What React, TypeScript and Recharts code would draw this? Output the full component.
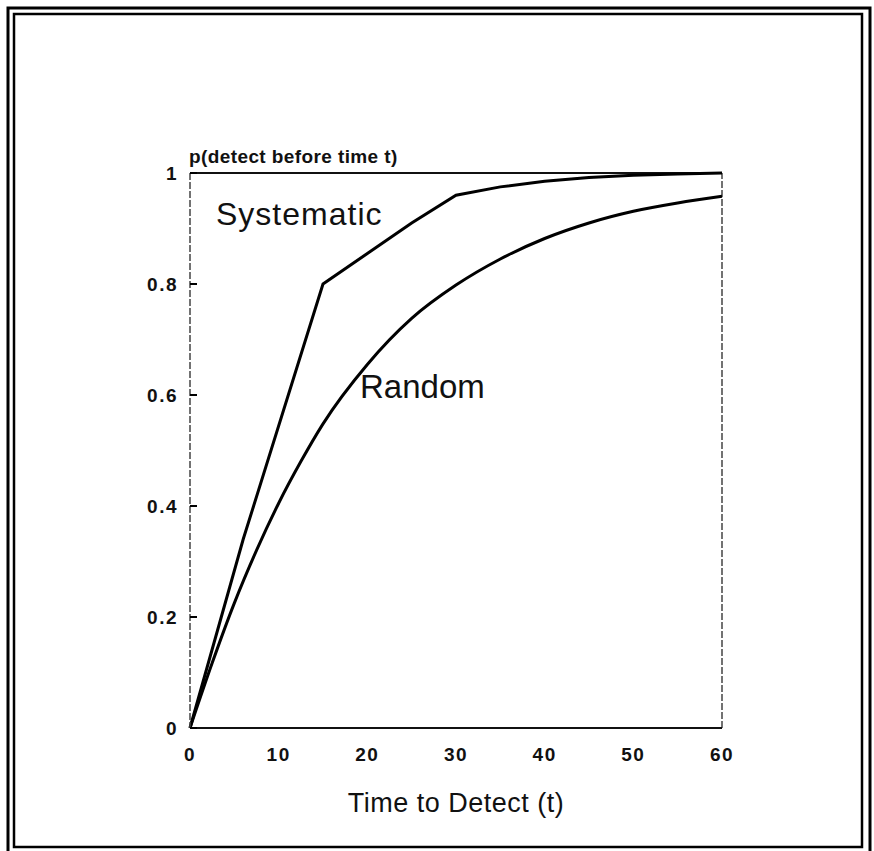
import React from "react";
import { LineChart, Line, XAxis, YAxis, ReferenceLine } from "recharts";

// values
const systematicT = [0, 6, 15, 20, 25, 30, 35, 40, 45, 50, 55, 60];
const systematicP = [0, 0.34, 0.8, 0.855, 0.91, 0.96, 0.975, 0.985, 0.992, 0.996, 0.998, 1.0];

const randomT = [0, 2.5, 5, 7.5, 10, 12.5, 15, 20, 25, 30, 35, 40, 45, 50, 55, 60];
const randomP = [0, 0.117, 0.225, 0.32, 0.405, 0.48, 0.548, 0.655, 0.738, 0.798, 0.845, 0.882, 0.91, 0.931, 0.946, 0.958];

const xTicks = [0, 10, 20, 30, 40, 50, 60];
const yTicks = [0, 0.2, 0.4, 0.6, 0.8, 1];

const systematic = systematicT.map((t, i) => ({ t, p: systematicP[i] }));
const random = randomT.map((t, i) => ({ t, p: randomP[i] }));

const FONT = '"Liberation Sans", Arial, Helvetica, sans-serif';

export default function App() {
  return (
    <div style={{ position: "absolute", left: 0, top: 0, width: 874, height: 851, background: "#fff", overflow: "hidden" }}>
      <LineChart
        width={874}
        height={851}
        margin={{ top: 173, right: 152, left: 130, bottom: 83 }}
      >
        <XAxis
          dataKey="t"
          type="number"
          domain={[0, 60]}
          ticks={xTicks}
          height={40}
          tickSize={0}
          tickMargin={20}
          tickLine={false}
          axisLine={{ stroke: "#111", strokeWidth: 2 }}
          tick={{ fill: "#111", fontFamily: FONT, fontWeight: "bold", fontSize: 19, letterSpacing: 1.5 }}
          allowDuplicatedCategory={false}
        />
        <YAxis
          type="number"
          domain={[0, 1]}
          ticks={yTicks}
          width={60}
          tickSize={-7}
          tickMargin={19}
          tickLine={{ stroke: "#000", strokeWidth: 2 }}
          axisLine={{ stroke: "#444", strokeWidth: 1.5, strokeDasharray: "7 2" }}
          tick={{ fill: "#111", fontFamily: FONT, fontWeight: "bold", fontSize: 19, letterSpacing: 1.5 }}
        />
        <ReferenceLine y={1} stroke="#111" strokeWidth={2} />
        <ReferenceLine x={60} stroke="#444" strokeWidth={1.5} strokeDasharray="7 2" />
        <Line
          data={systematic}
          dataKey="p"
          type="linear"
          stroke="#000"
          strokeWidth={3}
          dot={false}
          isAnimationActive={false}
        />
        <Line
          data={random}
          dataKey="p"
          type="monotone"
          stroke="#000"
          strokeWidth={3}
          dot={false}
          isAnimationActive={false}
        />
      </LineChart>

      {/* frame, title and annotations */}
      <svg width={874} height={851} style={{ position: "absolute", left: 0, top: 0, pointerEvents: "none" }}>
        <rect x={8} y={8} width={862} height={860} fill="none" stroke="#000" strokeWidth={3} />
        <rect x={14} y={14} width={848} height={833} fill="none" stroke="#000" strokeWidth={2.5} />
        <text x={189} y={163} fontFamily={FONT} fontWeight="bold" fontSize={19} fill="#111" letterSpacing={0.4}>
          p(detect before time t)
        </text>
        <text x={216} y={225} fontFamily={FONT} fontSize={32} fill="#111" letterSpacing={1}>
          Systematic
        </text>
        <text x={360} y={398} fontFamily={FONT} fontSize={33} fill="#111">
          Random
        </text>
        <text x={456} y={812} textAnchor="middle" fontFamily={FONT} fontSize={27} fill="#111" letterSpacing={0.5}>
          Time to Detect (t)
        </text>
      </svg>
    </div>
  );
}
